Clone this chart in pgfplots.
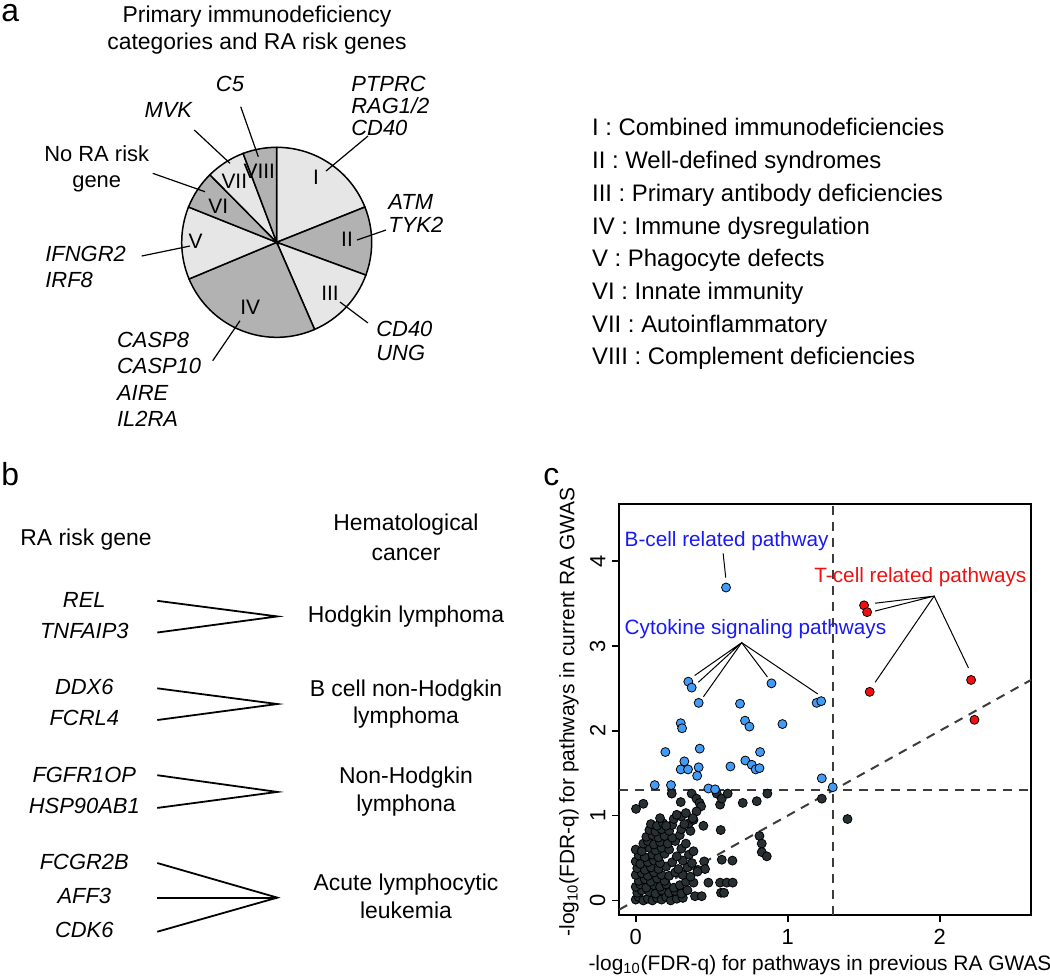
\documentclass[border=0pt]{standalone}
\usepackage{pgfplots}
\pgfplotsset{compat=1.18}
\usepackage{fontspec}
\setmainfont{Liberation Sans}
\definecolor{pielight}{RGB}{230,230,230}
\definecolor{piedark}{RGB}{178,178,178}
\definecolor{ptblue}{RGB}{66,155,245}
\definecolor{ptdark}{RGB}{40,48,52}
\definecolor{ptred}{RGB}{240,16,16}
\definecolor{txtblue}{RGB}{25,25,245}
\definecolor{dashgray}{RGB}{60,60,60}
\newcommand\ft{\fontsize{11.5}{13.8}\selectfont}
\newcommand\fl{\fontsize{12}{14}\selectfont}
\newcommand\fg{\fontsize{11}{13}\itshape\selectfont}
\newcommand\fn{\fontsize{10.5}{12}\selectfont}
\newcommand\slice[3]{\filldraw[fill=#3, draw=black, line width=0.75bp] (axis cs:276.7,242.3) -- ++(#1:47.5bp) arc[start angle=#1, end angle=#2, radius=47.5bp] -- cycle;}
\begin{document}
\begin{tikzpicture}
\useasboundingbox (0,0) rectangle (525bp,-488.5bp);
% ---------------- overlay axis in pixel units (panels a and b, labels) ----------------
\begin{axis}[at={(0,0)}, anchor=north west, scale only axis, width=525bp, height=488.5bp,
  xmin=0, xmax=1050, ymin=0, ymax=977, y dir=reverse, hide axis, clip=false]
% pie slices (boundary angles, clockwise from 90 deg)
\slice{90}{21.8}{pielight}
\slice{21.8}{-20.2}{piedark}
\slice{-20.2}{-66.5}{pielight}
\slice{-66.5}{-157.3}{piedark}
\slice{-157.3}{-201.8}{pielight}
\slice{-201.8}{-225.3}{piedark}
\slice{-225.3}{-249.3}{pielight}
\slice{-249.3}{-270}{piedark}
% pie numerals
\node[font=\fn, anchor=mid] at (axis cs:316,179) {I};
\node[font=\fn, anchor=mid] at (axis cs:347,241) {II};
\node[font=\fn, anchor=mid] at (axis cs:330,295) {III};
\node[font=\fn, anchor=mid] at (axis cs:250.3,309.3) {IV};
\node[font=\fn, anchor=mid] at (axis cs:195.7,243.3) {V};
\node[font=\fn, anchor=mid] at (axis cs:218.3,208) {VI};
\node[font=\fn, anchor=mid] at (axis cs:234.3,183.3) {VII};
\node[font=\fn, anchor=mid] at (axis cs:259.3,173) {VIII};
% pie leader lines
\addplot[black, line width=0.6bp] coordinates {(326,171) (368,136)};
\addplot[black, line width=0.6bp] coordinates {(357,240) (386,230)};
\addplot[black, line width=0.6bp] coordinates {(340,302) (368,323)};
\addplot[black, line width=0.6bp] coordinates {(240,320.7) (212.7,360.7)};
\addplot[black, line width=0.6bp] coordinates {(190,246) (141.7,256)};
\addplot[black, line width=0.6bp] coordinates {(205,191.7) (152.7,173.3)};
\addplot[black, line width=0.6bp] coordinates {(230,163.3) (194.3,130)};
\addplot[black, line width=0.6bp] coordinates {(258.3,156.7) (240.7,106.7)};
% panel a texts
\node[font=\fontsize{16}{18}\selectfont, anchor=base west, inner sep=0] at (axis cs:1,21) {a};
\node[font=\ft, anchor=mid] at (axis cs:257,17) {Primary immunodeficiency};
\node[font=\ft, anchor=mid] at (axis cs:257,44) {categories and RA risk genes};
\node[font=\fg, anchor=mid west, inner sep=0] at (axis cs:351,86) {PTPRC};
\node[font=\fg, anchor=mid west, inner sep=0] at (axis cs:351,108) {RAG1/2};
\node[font=\fg, anchor=mid west, inner sep=0] at (axis cs:351,130) {CD40};
\node[font=\fg, anchor=mid west, inner sep=0] at (axis cs:388,204) {ATM};
\node[font=\fg, anchor=mid west, inner sep=0] at (axis cs:388,227) {TYK2};
\node[font=\fg, anchor=mid west, inner sep=0] at (axis cs:376,331) {CD40};
\node[font=\fg, anchor=mid west, inner sep=0] at (axis cs:376,355) {UNG};
\node[font=\fg, anchor=mid] at (axis cs:230,86) {C5};
\node[font=\fg, anchor=mid] at (axis cs:168.3,112.7) {MVK};
\node[font=\fontsize{11}{13}\selectfont, anchor=mid] at (axis cs:96.7,156) {No RA risk};
\node[font=\fontsize{11}{13}\selectfont, anchor=mid] at (axis cs:96.7,182.7) {gene};
\node[font=\fg, anchor=mid west, inner sep=0] at (axis cs:45,256) {IFNGR2};
\node[font=\fg, anchor=mid west, inner sep=0] at (axis cs:45,282.7) {IRF8};
\node[font=\fg, anchor=mid west, inner sep=0] at (axis cs:116.7,342.7) {CASP8};
\node[font=\fg, anchor=mid west, inner sep=0] at (axis cs:116.7,368.3) {CASP10};
\node[font=\fg, anchor=mid west, inner sep=0] at (axis cs:116.7,395) {AIRE};
\node[font=\fg, anchor=mid west, inner sep=0] at (axis cs:116.7,421) {IL2RA};
% legend of categories
\node[font=\fl, anchor=mid west, inner sep=0] at (axis cs:591.7,130.7) {I : Combined immunodeficiencies};
\node[font=\fl, anchor=mid west, inner sep=0] at (axis cs:591.7,163.4) {II : Well-defined syndromes};
\node[font=\fl, anchor=mid west, inner sep=0] at (axis cs:591.7,196.1) {III : Primary antibody deficiencies};
\node[font=\fl, anchor=mid west, inner sep=0] at (axis cs:591.7,228.8) {IV : Immune dysregulation};
\node[font=\fl, anchor=mid west, inner sep=0] at (axis cs:591.7,261.5) {V : Phagocyte defects};
\node[font=\fl, anchor=mid west, inner sep=0] at (axis cs:591.7,294.2) {VI : Innate immunity};
\node[font=\fl, anchor=mid west, inner sep=0] at (axis cs:591.7,326.9) {VII : Autoinflammatory};
\node[font=\fl, anchor=mid west, inner sep=0] at (axis cs:591.7,359.6) {VIII : Complement deficiencies};
% ---------------- panel b ----------------
\node[font=\fontsize{16}{18}\selectfont, anchor=base west, inner sep=0] at (axis cs:1,485) {b};
\node[font=\ft, anchor=mid] at (axis cs:86,540.3) {RA risk gene};
\node[font=\ft, anchor=mid] at (axis cs:406,525.7) {Hematological};
\node[font=\ft, anchor=mid] at (axis cs:406,555.2) {cancer};
\node[font=\fg, anchor=mid] at (axis cs:84.3,602.6) {REL};
\node[font=\fg, anchor=mid] at (axis cs:84.3,633.5) {TNFAIP3};
\node[font=\fg, anchor=mid] at (axis cs:84.3,689.4) {DDX6};
\node[font=\fg, anchor=mid] at (axis cs:84.3,720.7) {FCRL4};
\node[font=\fg, anchor=mid] at (axis cs:84.3,777) {FGFR1OP};
\node[font=\fg, anchor=mid] at (axis cs:84.3,807.9) {HSP90AB1};
\node[font=\fg, anchor=mid] at (axis cs:84.3,864.1) {FCGR2B};
\node[font=\fg, anchor=mid] at (axis cs:84.3,898.7) {AFF3};
\node[font=\fg, anchor=mid] at (axis cs:84.3,932.5) {CDK6};
\node[font=\ft, anchor=mid] at (axis cs:406,616.8) {Hodgkin lymphoma};
\node[font=\ft, anchor=mid] at (axis cs:406,691.2) {B cell non-Hodgkin};
\node[font=\ft, anchor=mid] at (axis cs:406,718.2) {lymphoma};
\node[font=\ft, anchor=mid] at (axis cs:406,778.7) {Non-Hodgkin};
\node[font=\ft, anchor=mid] at (axis cs:406,806.1) {lymphona};
\node[font=\ft, anchor=mid] at (axis cs:406,885.1) {Acute lymphocytic};
\node[font=\ft, anchor=mid] at (axis cs:406,912.9) {leukemia};
\addplot[black, line width=0.9bp] coordinates {(157.3,600.8) (277.3,616.4) (157.3,632.5)};
\addplot[black, line width=0.9bp] coordinates {(157.3,688.3) (277.3,704) (157.3,720)};
\addplot[black, line width=0.9bp] coordinates {(157.3,775.2) (277.3,791.9) (157.3,807.9)};
\addplot[black, line width=0.9bp] coordinates {(157.3,863) (277.3,897.6) (157.3,931.7)};
\addplot[black, line width=0.9bp] coordinates {(157.3,897.6) (277.3,897.6)};
% ---------------- panel c labels ----------------
\node[font=\fontsize{16}{18}\selectfont, anchor=base west, inner sep=0] at (axis cs:543,485) {c};
\node[font=\fontsize{10.5}{12}\selectfont, anchor=mid] at (axis cs:820,965) {-log\textsubscript{10}(FDR-q) for pathways in previous RA GWAS};
\node[font=\fontsize{10.5}{12}\selectfont, anchor=mid, rotate=90] at (axis cs:569,712) {-log\textsubscript{10}(FDR-q) for pathways in current RA GWAS};
\end{axis}
% ---------------- panel c scatter ----------------
\begin{axis}[at={(309.65bp,-252bp)}, anchor=north west, scale only axis,
  width=205.85bp, height=205.5bp,
  xmin=-0.108, xmax=2.60, ymin=-0.172, ymax=4.675,
  axis line style={line width=1bp, black},
  xtick={0,1,2}, ytick={0,1,2,3,4},
  tick align=outside, tick pos=left, major tick length=3.5bp,
  tick style={line width=0.8bp, black},
  ticklabel style={font=\fontsize{11}{13}\selectfont},
  yticklabel style={rotate=90, anchor=south},
  /pgf/number format/assume math mode=true,
  clip=false]
\addplot[dashgray, line width=1bp, dash pattern=on 4.5bp off 3.5bp] coordinates {(1.3,-0.172) (1.3,4.675)};
\addplot[dashgray, line width=1bp, dash pattern=on 4.5bp off 3.5bp] coordinates {(-0.108,1.3) (2.6,1.3)};
\addplot[dashgray, line width=1bp, dash pattern=on 4.5bp off 3.5bp] coordinates {(-0.108,-0.108) (2.6,2.6)};
% dark (non-significant) pathways
\addplot[only marks, mark=*, mark size=2.25bp, mark options={draw=none, fill=ptdark}] coordinates {
(0.00,0.01) (0.02,0.04) (0.05,0.00) (0.08,0.02) (0.11,0.00) (0.14,0.03) (0.17,0.01) (0.20,0.04) (0.23,0.00) (0.27,0.02) (0.31,0.03)
(0.01,0.09) (0.04,0.12) (0.09,0.10) (0.13,0.08) (0.17,0.12) (0.22,0.09) (0.26,0.11) (0.30,0.08) (0.34,0.12)
(0.00,0.16) (0.03,0.19) (0.07,0.15) (0.12,0.18) (0.16,0.16) (0.20,0.19) (0.25,0.15) (0.29,0.18)
(0.02,0.23) (0.06,0.25) (0.10,0.22) (0.14,0.26) (0.19,0.23) (0.33,0.22) (0.38,0.21)
(0.00,0.30) (0.04,0.32) (0.08,0.29) (0.12,0.33) (0.17,0.30) (0.22,0.29) (0.26,0.33) (0.31,0.30) (0.36,0.28)
(0.01,0.38) (0.06,0.36) (0.10,0.39) (0.15,0.37) (0.20,0.40) (0.28,0.37) (0.34,0.39) (0.41,0.36)
(0.00,0.46) (0.03,0.43) (0.08,0.45) (0.12,0.47) (0.16,0.44) (0.24,0.45) (0.31,0.47) (0.37,0.44)
(0.02,0.53) (0.06,0.51) (0.11,0.54) (0.15,0.51) (0.19,0.55) (0.27,0.52) (0.35,0.54)
(0.00,0.60) (0.04,0.58) (0.09,0.62) (0.13,0.59) (0.17,0.62) (0.22,0.60) (0.30,0.61) (0.38,0.58)
(0.05,0.67) (0.08,0.70) (0.12,0.66) (0.16,0.69) (0.21,0.67) (0.26,0.70) (0.33,0.67)
(0.07,0.75) (0.11,0.77) (0.15,0.74) (0.19,0.76) (0.24,0.74) (0.29,0.77)
(0.09,0.83) (0.13,0.81) (0.17,0.84) (0.22,0.82) (0.30,0.84) (0.36,0.82)
(0.10,0.90) (0.14,0.88) (0.18,0.91) (0.24,0.89) (0.35,0.91)
(0.16,0.97) (0.25,0.96) (0.30,0.99) (0.38,0.95)
(0.002,1.08) (0.05,1.14) (0.237,1.26) (0.296,1.16) (0.368,1.26) (0.40,1.20) (0.42,1.15) (0.43,1.11)
(0.40,1.05) (0.375,0.97) (0.33,1.03) (0.32,0.90) (0.27,1.01) (0.20,0.88)
(0.533,1.26) (0.555,1.13) (0.566,1.20) (0.605,1.26) (0.704,1.15) (0.796,1.17) (0.866,1.26)
(1.224,1.20) (1.393,0.96) (0.445,0.88) (0.559,0.83) (0.814,0.76) (0.829,0.67) (0.829,0.57) (0.862,0.52)
(0.636,0.47) (0.566,0.48) (0.45,0.46) (0.456,0.37) (0.406,0.34) (0.478,0.21) (0.555,0.21) (0.599,0.21)
(0.638,0.21) (0.561,0.09) (0.581,0.09) (0.39,0.05) (0.434,0.05)
};
% blue (significant, current only)
\addplot[only marks, mark=*, mark size=2.25bp, mark options={draw=none, fill=ptblue}] coordinates {
(0.594,3.69) (0.346,2.58) (0.368,2.51) (0.414,2.33) (0.893,2.56) (0.686,2.32) (1.19,2.33) (1.22,2.35)
(0.296,2.09) (0.305,2.03) (0.719,2.12) (0.748,2.05) (0.965,2.08) (0.195,1.75) (0.421,1.79) (0.818,1.75)
(0.320,1.64) (0.296,1.545) (0.344,1.545) (0.414,1.57) (0.404,1.47) (0.623,1.58) (0.721,1.65) (0.763,1.60)
(0.789,1.545) (0.814,1.56) (0.125,1.36) (0.232,1.36) (0.478,1.32) (0.522,1.31) (1.224,1.44) (1.296,1.335)
};
% red (T-cell)
\addplot[only marks, mark=*, mark size=2.25bp, mark options={draw=none, fill=ptred}] coordinates {
(1.502,3.48) (1.522,3.40) (1.539,2.46) (2.206,2.60) (2.228,2.13)
};
% annotation leader lines
\addplot[black, line width=0.5bp] coordinates {(0.575,4.093) (0.592,3.808)};
\addplot[black, line width=0.5bp] coordinates {(0.388,2.653) (0.697,3.04) (0.412,2.573)};
\addplot[black, line width=0.5bp] coordinates {(0.445,2.401) (0.697,3.04) (0.866,2.636)};
\addplot[black, line width=0.5bp] coordinates {(0.697,3.04) (1.197,2.435)};
\addplot[black, line width=0.5bp] coordinates {(1.575,3.505) (1.963,3.589) (1.575,3.413)};
\addplot[black, line width=0.5bp] coordinates {(1.575,2.573) (1.963,3.589) (2.189,2.741)};
\node[anchor=west, text=txtblue, font=\fontsize{10.4}{12}\selectfont, inner sep=0] at (axis cs:-0.075,4.24) {B-cell related pathway};
\node[anchor=west, text=txtblue, font=\fontsize{10.4}{12}\selectfont, inner sep=0] at (axis cs:-0.075,3.20) {Cytokine signaling pathways};
\node[anchor=west, text=ptred, font=\fontsize{10.4}{12}\selectfont, inner sep=0] at (axis cs:1.173,3.81) {T-cell related pathways};
\end{axis}
\end{tikzpicture}
\end{document}
